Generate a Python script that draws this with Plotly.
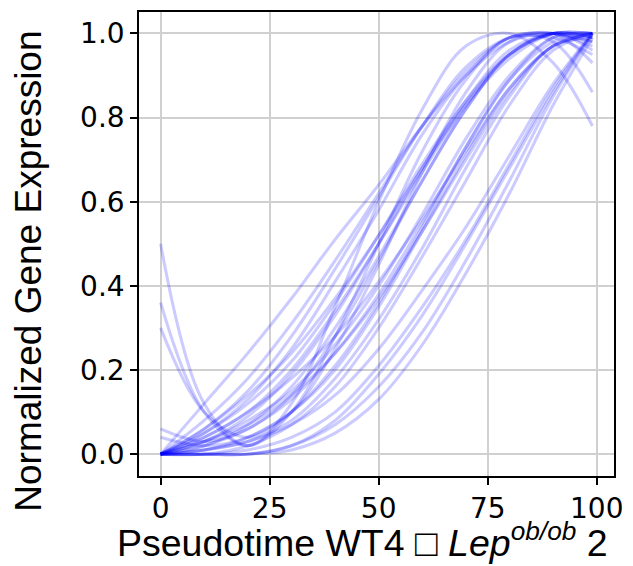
import plotly.graph_objects as go

# pseudotime sample positions
pseudotime = [0, 10, 20, 30, 40, 50, 60, 70, 80, 90, 99]

# normalized gene expression curves (values read at the pseudotime positions)
early_curves = [
    [0.00, 0.12, 0.24, 0.37, 0.51, 0.64, 0.78, 0.90, 0.98, 1.00, 0.98],
    [0.00, 0.06, 0.15, 0.28, 0.44, 0.61, 0.78, 0.92, 0.99, 0.99, 0.95],
    [0.00, 0.08, 0.18, 0.31, 0.46, 0.62, 0.78, 0.91, 0.99, 1.00, 0.97],
    [0.00, 0.05, 0.13, 0.25, 0.41, 0.58, 0.76, 0.90, 0.99, 1.00, 0.98],
    [0.50, 0.12, 0.02, 0.12, 0.35, 0.60, 0.82, 0.97, 1.00, 0.93, 0.78],
]
mid_curves = [
    [0.00, 0.04, 0.10, 0.20, 0.34, 0.50, 0.67, 0.83, 0.95, 1.00, 1.00],
    [0.00, 0.03, 0.09, 0.19, 0.33, 0.50, 0.68, 0.84, 0.96, 1.00, 0.99],
    [0.00, 0.05, 0.12, 0.22, 0.36, 0.52, 0.69, 0.84, 0.95, 1.00, 1.00],
    [0.00, 0.02, 0.07, 0.16, 0.30, 0.47, 0.65, 0.82, 0.95, 1.00, 0.99],
    [0.36, 0.10, 0.02, 0.10, 0.28, 0.50, 0.72, 0.89, 0.99, 0.98, 0.86],
    [0.30, 0.10, 0.04, 0.10, 0.25, 0.45, 0.67, 0.86, 0.98, 1.00, 0.93],
    [0.00, 0.06, 0.14, 0.24, 0.37, 0.52, 0.68, 0.83, 0.94, 1.00, 0.99],
    [0.06, 0.03, 0.06, 0.14, 0.28, 0.46, 0.65, 0.82, 0.95, 1.00, 0.96],
]
late_curves = [
    [0.00, 0.03, 0.08, 0.15, 0.26, 0.40, 0.57, 0.75, 0.90, 0.99, 1.00],
    [0.00, 0.02, 0.06, 0.13, 0.24, 0.38, 0.55, 0.73, 0.89, 0.98, 1.00],
    [0.00, 0.01, 0.04, 0.10, 0.20, 0.35, 0.53, 0.71, 0.87, 0.97, 1.00],
    [0.00, 0.04, 0.10, 0.18, 0.28, 0.41, 0.56, 0.72, 0.87, 0.97, 1.00],
    [0.00, 0.01, 0.03, 0.08, 0.18, 0.32, 0.49, 0.68, 0.85, 0.97, 0.99],
    [0.04, 0.02, 0.04, 0.10, 0.21, 0.36, 0.54, 0.73, 0.89, 0.99, 1.00],
    [0.00, 0.00, 0.02, 0.07, 0.16, 0.30, 0.47, 0.65, 0.83, 0.96, 1.00],
    [0.00, 0.03, 0.07, 0.14, 0.24, 0.37, 0.53, 0.70, 0.86, 0.97, 1.00],
]
latest_curves = [
    [0.00, 0.00, 0.00, 0.02, 0.07, 0.16, 0.29, 0.46, 0.65, 0.85, 1.00],
    [0.00, 0.00, 0.01, 0.04, 0.10, 0.21, 0.35, 0.51, 0.69, 0.87, 1.00],
    [0.00, 0.00, 0.00, 0.01, 0.05, 0.13, 0.26, 0.43, 0.62, 0.83, 0.99],
    [0.00, 0.01, 0.03, 0.07, 0.14, 0.25, 0.39, 0.54, 0.71, 0.88, 1.00],
    [0.00, 0.00, 0.00, 0.02, 0.08, 0.19, 0.33, 0.50, 0.68, 0.86, 1.00],
]

x_ticks = [0, 25, 50, 75, 100]
y_ticks = [0.0, 0.2, 0.4, 0.6, 0.8, 1.0]
y_tick_labels = ["0.0", "0.2", "0.4", "0.6", "0.8", "1.0"]

x_title = "Pseudotime WT4 \u25a1 <i>Lep</i><sup><i>ob/ob</i></sup> 2"
y_title = "Normalized Gene Expression"

fig = go.Figure()
for curve in early_curves + mid_curves + late_curves + latest_curves:
    fig.add_trace(go.Scatter(
        x=pseudotime, y=curve, mode="lines",
        line=dict(color="#0000ff", width=3, shape="spline", smoothing=1.0),
        opacity=0.2, showlegend=False, hoverinfo="skip",
    ))

axis_common = dict(
    showline=True, linecolor="black", linewidth=1.6, mirror=True,
    ticks="outside", ticklen=7, tickwidth=1.6, tickcolor="black",
    showgrid=True, gridcolor="#d0d0d0", gridwidth=1.5,
    zeroline=False,
    tickfont=dict(family="DejaVu Sans", size=28, color="black"),
)

fig.update_xaxes(range=[-4.95, 103.95], tickvals=x_ticks, **axis_common)
fig.update_yaxes(range=[-0.052, 1.051], tickvals=y_ticks, ticktext=y_tick_labels, **axis_common)

fig.update_layout(
    width=633, height=566,
    margin=dict(l=139, r=14, t=10, b=90),
    paper_bgcolor="white", plot_bgcolor="white",
    annotations=[
        dict(text=x_title, xref="paper", yref="paper", x=0.471, y=-0.139,
             xanchor="center", yanchor="middle", showarrow=False,
             font=dict(family="Liberation Sans", size=37.5, color="black")),
        dict(text=y_title, xref="paper", yref="paper", x=-0.232, y=0.442,
             xanchor="center", yanchor="middle", showarrow=False, textangle=-90,
             font=dict(family="Liberation Sans", size=37, color="black")),
    ],
)

fig.write_html("out.html")
